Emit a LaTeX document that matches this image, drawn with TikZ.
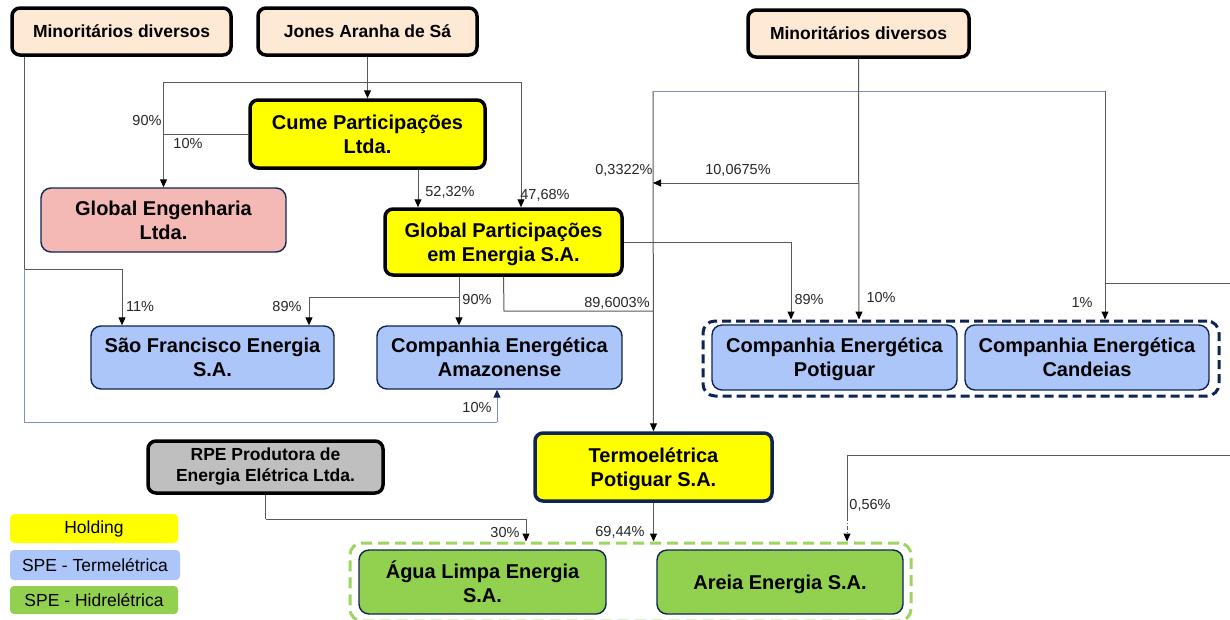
\documentclass[tikz,border=0pt]{standalone}
\usepackage{fontspec}
\setmainfont{Liberation Sans}
\usetikzlibrary{arrows.meta,calc}
\definecolor{peach}{HTML}{FDE9D4}
\definecolor{hyellow}{HTML}{FFFF00}
\definecolor{pinkbox}{HTML}{F4B8B5}
\definecolor{lblue}{HTML}{ADC6F9}
\definecolor{lgreen}{HTML}{92D050}
\definecolor{dgreen}{HTML}{9CD562}
\definecolor{gbox}{HTML}{BFBFBF}
\definecolor{navy}{HTML}{0E2454}
\definecolor{lgray}{HTML}{595959}
\definecolor{bgray}{HTML}{7E90B4}
\definecolor{labc}{HTML}{262626}
\newcommand\nodepth[1]{\raisebox{0pt}[\height][0pt]{#1}}
\begin{document}
\begin{tikzpicture}[x=1pt,y=-1pt,
  box/.style={rectangle, align=center, inner sep=0pt, text=black},
  bigtxt/.style={font=\fontsize{20}{24}\selectfont\bfseries},
  smalltxt/.style={font=\fontsize{17.5}{21}\selectfont\bfseries},
  thickb/.style={box, draw=black, line width=3.5pt, rounded corners=8pt},
  navythick/.style={box, draw=navy, line width=3.5pt, rounded corners=8pt},
  thinb/.style={box, draw=navy, line width=1.4pt, rounded corners=10pt, bigtxt},
  legend/.style={box, rounded corners=4pt, font=\fontsize{17.5}{20}\selectfont},
  conn/.style={draw=lgray, line width=1pt},
  bconn/.style={draw=bgray, line width=1pt},
  arr/.style={-{Triangle[length=8pt,width=7pt,color=black]}},
  lab/.style={font=\fontsize{14.5}{16}\selectfont, text=labc, inner sep=0pt}
]
\useasboundingbox (0,0) rectangle (1230,619);
% group frames
\node[box, draw=navy, line width=3pt, dash pattern=on 9pt off 5pt, rounded corners=12pt,
      minimum width=516pt, minimum height=75pt] (grp1) at (961,358.5) {};
\node[box, draw=dgreen, line width=3pt, dash pattern=on 11pt off 6pt, rounded corners=12pt,
      minimum width=561pt, minimum height=78pt] (grp2) at (630.5,582) {};
% top row
\node[thickb, fill=peach, smalltxt, minimum width=219pt, minimum height=47pt] (min1) at (121.5,31.5) {Minoritários diversos};
\node[thickb, fill=peach, smalltxt, minimum width=219pt, minimum height=47pt] (jones) at (367.5,31.5) {Jones Aranha de Sá};
\node[thickb, fill=peach, smalltxt, minimum width=221pt, minimum height=47pt] (min2) at (858.5,33.5) {Minoritários diversos};
% holdings
\node[thickb, fill=hyellow, bigtxt, minimum width=235pt, minimum height=68pt] (cume) at (367.5,134) {Cume Participações\\Ltda.};
\node[thickb, fill=hyellow, bigtxt, minimum width=237pt, minimum height=66pt] (gpe) at (503.5,242) {Global Participações\\\nodepth{em Energia S.A.}};
\node[navythick, fill=hyellow, bigtxt, minimum width=237pt, minimum height=68pt] (termo) at (653.5,467) {Termoelétrica\\\nodepth{Potiguar S.A.}};
\node[thickb, fill=gbox, smalltxt, minimum width=235pt, minimum height=52pt] (rpe) at (265.5,467) {RPE Produtora de\\Energia Elétrica Ltda.};
% companies
\node[thinb, fill=pinkbox, minimum width=245pt, minimum height=64pt] (geng) at (163.5,220) {Global Engenharia\\Ltda.};
\node[thinb, fill=lblue, minimum width=243pt, minimum height=63pt] (sfe) at (212.5,357.5) {São Francisco Energia\\S.A.};
\node[thinb, fill=lblue, minimum width=245pt, minimum height=63pt] (ama) at (499.5,357.5) {Companhia Energética\\Amazonense};
\node[thinb, fill=lblue, minimum width=245pt, minimum height=65pt] (cep) at (834.5,357.5) {Companhia Energética\\\nodepth{Potiguar}};
\node[thinb, fill=lblue, minimum width=244pt, minimum height=65pt] (cec) at (1087,357.5) {Companhia Energética\\Candeias};
\node[thinb, fill=lgreen, minimum width=247pt, minimum height=64pt] (agua) at (482.5,582) {Água Limpa Energia\\S.A.};
\node[thinb, fill=lgreen, minimum width=246pt, minimum height=64pt] (areia) at (780,582) {\nodepth{Areia Energia S.A.}};
% legend
\node[legend, fill=hyellow, minimum width=168pt, minimum height=29pt] (lg1) at (94,528.5) {Holding};
\node[legend, fill=lblue, minimum width=170pt, minimum height=30pt] (lg2) at (95,565) {SPE - Termelétrica};
\node[legend, fill=lgreen, minimum width=168pt, minimum height=28pt] (lg3) at (94,600) {SPE - Hidrelétrica};

% helper coordinates
\coordinate (j82) at (368,82);
\coordinate (c10) at (164,134);
\coordinate (m1a) at (24,269);
\coordinate (m1b) at (24,422);
\coordinate (m1c) at (497,422);
\coordinate (g297) at (459,297);
\coordinate (g311) at (504,311);
\coordinate (t311) at (653,311);
\coordinate (t91) at (653,91);
\coordinate (c91) at (1105,91);
\coordinate (c283) at (1105,283);
\coordinate (redge1) at (1230,283);
\coordinate (m2a) at (859,183);
\coordinate (t183) at (653,183);
\coordinate (r519) at (265.5,519);
\coordinate (redge2) at (1230,455);
\coordinate (a455) at (847,455);
\coordinate (a517) at (847,517);

% connectors
\draw[conn,arr] (jones.south) -- (cume.north);
\draw[conn,arr] (j82) -| (geng.north);
\draw[conn,arr] (j82) -| ([xshift=17.5pt]gpe.north);
\draw[conn] (cume.west) -- (c10);
\draw[conn,arr] ([xshift=50.5pt]cume.south) -- ([xshift=-85.5pt]gpe.north);
\draw[conn] ([xshift=-97.5pt]min1.south) -- (m1a);
\draw[conn,arr] (m1a) -| ([xshift=-90.5pt]sfe.north);
\draw[bconn] (m1a) -- (m1b) -- (m1c);
\draw[bconn,-{Triangle[length=8pt,width=7pt,color=navy]}] (m1c) -- ([xshift=-2.5pt]ama.south);
\draw[conn] ([xshift=-44.5pt]gpe.south) -- (g297);
\draw[conn,arr] (g297) -| ([xshift=96.5pt]sfe.north);
\draw[conn,arr] (g297) -- ([xshift=-40.5pt]ama.north);
\draw[conn] (gpe.south) -- (g311) -- (t311);
\draw[conn,arr] (t91) -- (termo.north);
\draw[bconn] (t91) -- (c91);
\draw[conn,arr] (c91) -- ([xshift=144pt]grp1.north);
\draw[conn] (redge1) -- (c283);
\draw[conn,arr] (min2.south) -- ([xshift=-102pt]grp1.north);
\draw[conn,arr] (m2a) -- (t183);
\draw[conn,arr] (gpe.east) -| ([xshift=-170pt]grp1.north);
\draw[conn,arr] (termo.south) -- ([xshift=23pt]grp2.north);
\draw[conn] (rpe.south) -- (r519);
\draw[conn,arr] (r519) -| ([xshift=-104.5pt]grp2.north);
\draw[conn] (redge2) -- (a455) -- (a517);
\draw[conn,arr,dash pattern=on 4pt off 2pt on 1pt off 2pt] (a517) -- ([xshift=216.5pt]grp2.north);

% labels
\node[lab] (l1) at (147,121) {90\%};
\node[lab] (l2) at (188,144) {10\%};
\node[lab] (l3) at (450,192) {52,32\%};
\node[lab] (l4) at (545,195) {47,68\%};
\node[lab] (l5) at (624,170) {0,3322\%};
\node[lab] (l6) at (738,170) {10,0675\%};
\node[lab] (l7) at (140,307) {11\%};
\node[lab] (l8) at (287,307) {89\%};
\node[lab] (l9) at (477,300) {90\%};
\node[lab] (l10) at (617,303) {89,6003\%};
\node[lab] (l11) at (809,300) {89\%};
\node[lab] (l12) at (881,298) {10\%};
\node[lab] (l13) at (1082,303) {1\%};
\node[lab] (l14) at (477,407) {10\%};
\node[lab] (l15) at (505,532) {30\%};
\node[lab] (l16) at (620,532) {69,44\%};
\node[lab] (l17) at (870,505) {0,56\%};
\end{tikzpicture}
\end{document}
